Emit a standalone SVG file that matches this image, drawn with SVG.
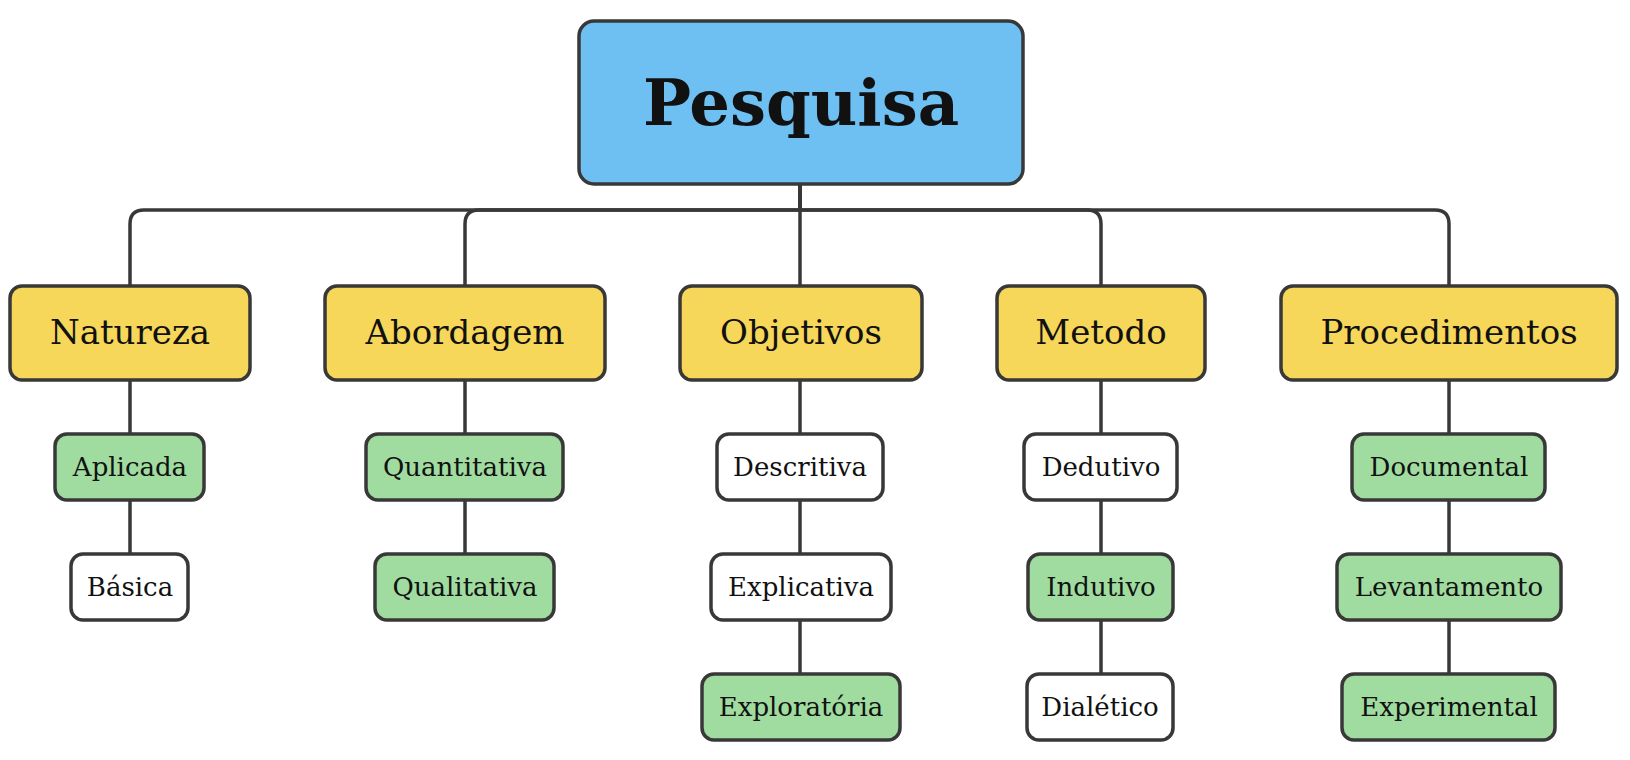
<svg xmlns="http://www.w3.org/2000/svg" width="1630" height="760" viewBox="0 0 1630 760">
<style>
.box{stroke:#383838;stroke-width:3.5}
.root{fill:#6EC0F2}
.l1{fill:#F6D75A}
.g{fill:#A0DCA0}
.w{fill:#FFFFFF}
text{font-family:"DejaVu Serif","Liberation Serif",serif;fill:#111;text-anchor:middle}
.t0{font-size:64px;font-weight:bold}
.t1{font-size:34px}
.t2{font-size:26px}
.conn path{fill:none;stroke:#383838;stroke-width:3.5}
</style>
<rect width="1630" height="760" fill="#FFFFFF"/>
<g class="conn" id="connectors">
<path d="M800 184 V210 H144 Q130 210 130 224 V286"/>
<path d="M800 184 V210 H479 Q465 210 465 224 V286"/>
<path d="M800 184 V286"/>
<path d="M800 184 V210 H1087 Q1101 210 1101 224 V286"/>
<path d="M800 184 V210 H1435 Q1449 210 1449 224 V286"/>
<path d="M130 380 V434 M130 500 V554"/>
<path d="M465 380 V434 M465 500 V554"/>
<path d="M800 380 V434 M800 500 V554 M800 620 V674"/>
<path d="M1101 380 V434 M1101 500 V554 M1101 620 V674"/>
<path d="M1449 380 V434 M1449 500 V554 M1449 620 V674"/>
</g>
<g id="pesquisa"><rect class="box root" x="579" y="21" width="444" height="163" rx="15"/><text class="t0" x="801" y="125">Pesquisa</text></g>
<g id="natureza"><rect class="box l1" x="10" y="286" width="240" height="94" rx="12"/><text class="t1" x="130" y="344">Natureza</text></g>
<g id="abordagem"><rect class="box l1" x="325" y="286" width="280" height="94" rx="12"/><text class="t1" x="465" y="344">Abordagem</text></g>
<g id="objetivos"><rect class="box l1" x="680" y="286" width="242" height="94" rx="12"/><text class="t1" x="801" y="344">Objetivos</text></g>
<g id="metodo"><rect class="box l1" x="997" y="286" width="208" height="94" rx="12"/><text class="t1" x="1101" y="344">Metodo</text></g>
<g id="procedimentos"><rect class="box l1" x="1281" y="286" width="336" height="94" rx="12"/><text class="t1" x="1449" y="344">Procedimentos</text></g>
<g id="aplicada"><rect class="box g" x="55" y="434" width="149" height="66" rx="12"/><text class="t2" x="130" y="476">Aplicada</text></g>
<g id="basica"><rect class="box w" x="71" y="554" width="117" height="66" rx="12"/><text class="t2" x="130" y="596">Básica</text></g>
<g id="quantitativa"><rect class="box g" x="366" y="434" width="197" height="66" rx="12"/><text class="t2" x="465" y="476">Quantitativa</text></g>
<g id="qualitativa"><rect class="box g" x="375" y="554" width="179" height="66" rx="12"/><text class="t2" x="465" y="596">Qualitativa</text></g>
<g id="descritiva"><rect class="box w" x="717" y="434" width="166" height="66" rx="12"/><text class="t2" x="800" y="476">Descritiva</text></g>
<g id="explicativa"><rect class="box w" x="711" y="554" width="180" height="66" rx="12"/><text class="t2" x="801" y="596">Explicativa</text></g>
<g id="exploratoria"><rect class="box g" x="702" y="674" width="198" height="66" rx="12"/><text class="t2" x="801" y="716">Exploratória</text></g>
<g id="dedutivo"><rect class="box w" x="1024" y="434" width="153" height="66" rx="12"/><text class="t2" x="1101" y="476">Dedutivo</text></g>
<g id="indutivo"><rect class="box g" x="1028" y="554" width="145" height="66" rx="12"/><text class="t2" x="1101" y="596">Indutivo</text></g>
<g id="dialetico"><rect class="box w" x="1027" y="674" width="146" height="66" rx="12"/><text class="t2" x="1100" y="716">Dialético</text></g>
<g id="documental"><rect class="box g" x="1352" y="434" width="193" height="66" rx="12"/><text class="t2" x="1449" y="476">Documental</text></g>
<g id="levantamento"><rect class="box g" x="1337" y="554" width="224" height="66" rx="12"/><text class="t2" x="1449" y="596">Levantamento</text></g>
<g id="experimental"><rect class="box g" x="1342" y="674" width="213" height="66" rx="12"/><text class="t2" x="1449" y="716">Experimental</text></g>
</svg>
